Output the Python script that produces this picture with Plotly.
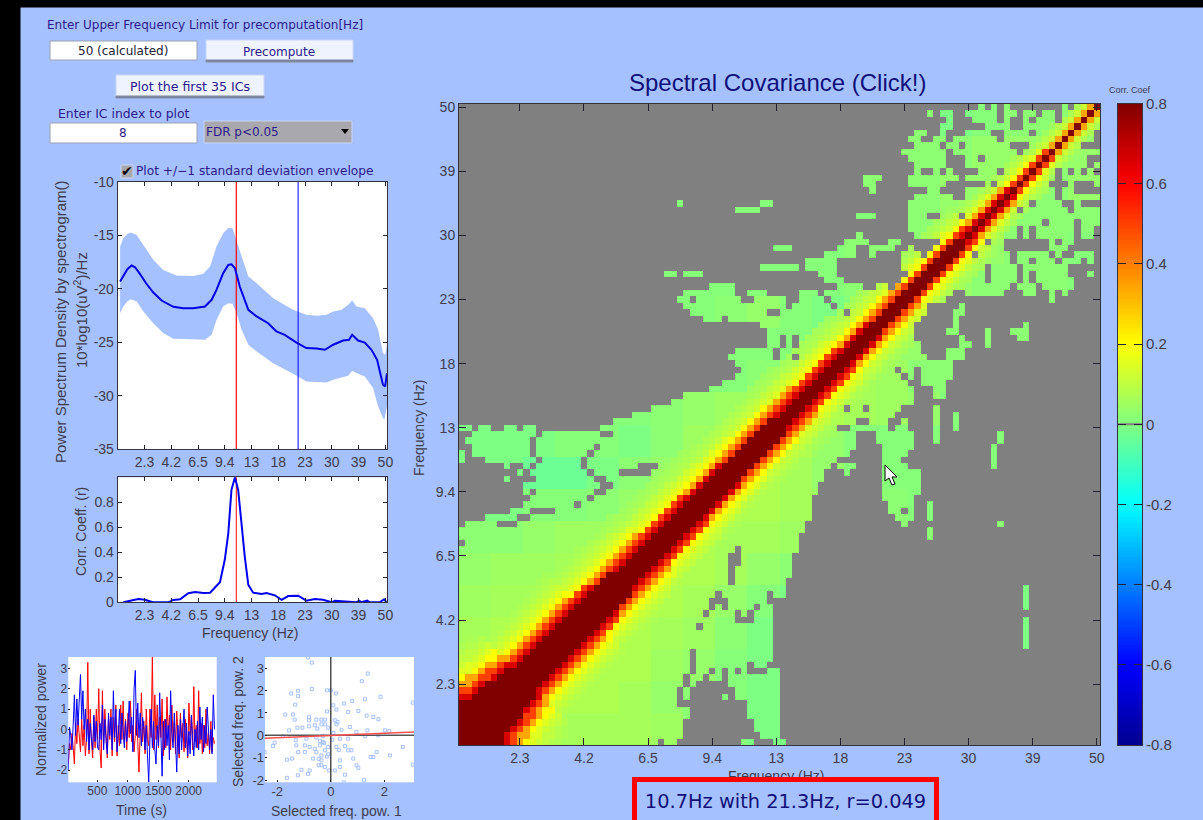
import math
import plotly.graph_objects as go

W, H = 1203, 820
BG = "#a6c1ff"
TXT = "#3d3d4d"
GUI = "#2c1a8c"
NAVY = "#10107a"

FREQ_LABELS = ["2.3", "4.2", "6.5", "9.4", "13", "18", "23", "30", "39", "50"]
FREQ_TICKS = [10, 20, 30, 40, 50, 60, 70, 80, 90, 100]

# ---- power spectrum (log-frequency index, dB) ----
PSD_K = [.9,2.1,3.6,5.2,6.5,8.3,10.6,13.3,16.4,20.8,24.5,28.2,32.6,35.1,36.9,39.4,41.3,42.5,43.8,45.6,48.8,51.9,56.2,59.3,62.4,66.8,70.5,74.3,77.4,80.5,84.2,86.4,87.6,89.8,92.3,94.8,96.9,99.1,99.9,100.6]
PSD_V = [-19.32,-18.79,-18.17,-17.82,-17.98,-18.6,-19.48,-20.35,-21.1,-21.69,-21.81,-21.81,-21.66,-21.03,-20.1,-18.54,-17.76,-17.7,-18.07,-19.79,-21.97,-22.59,-23.22,-24.0,-24.31,-25.03,-25.55,-25.59,-25.71,-25.24,-24.84,-24.78,-24.31,-24.84,-25.03,-25.71,-26.65,-28.98,-29.14,-27.89]
UP_K = [.9,2.1,3.6,4.9,7.1,9.6,13.3,17,22,28.2,32,34.5,36.9,39.4,41.3,42.9,44.4,46.3,48.8,51.9,58.1,65.5,70.5,74.3,78,80.5,83.6,86.1,87.6,89.2,92.3,95.4,97.3,99.1,99.9,100.6]
UP_V = [-16.05,-15.27,-14.86,-14.74,-14.96,-15.89,-17.29,-18.23,-18.76,-18.79,-18.6,-17.92,-16.05,-14.8,-14.3,-14.33,-15.42,-16.98,-18.85,-19.48,-20.88,-21.97,-22.44,-22.53,-22.44,-22.13,-21.97,-21.5,-21.1,-21.66,-21.81,-22.75,-23.84,-26.02,-26.18,-25.24]
LO_K = [.9,2.1,3.6,4.9,7.1,9.6,13.3,17,20.8,25.7,32.6,35.1,36.9,39.4,41.3,42.9,44.4,46.3,48.8,51.9,58.1,65.5,70.5,78,80.5,86.1,87.6,89.2,92.3,95.4,97.3,99.1,99.6,100.6]
LO_V = [-22.28,-21.66,-21.19,-20.97,-21.19,-22.13,-23.22,-24.15,-24.68,-24.71,-24.78,-24.31,-22.91,-21.66,-21.35,-21.41,-22.28,-23.84,-25.24,-25.87,-26.96,-27.96,-28.67,-28.77,-28.52,-28.14,-27.67,-27.89,-28.2,-29.3,-31.01,-32.1,-32.26,-31.01]
SEL_RED_K = 44.3
SEL_BLUE_K = 67.4

# ---- correlation with selected frequency ----
CORR_K = [2.1,4.6,7.7,10.2,13.1,18.9,20.8,23.3,26.4,28.9,32,34.5,38.2,40,41.3,42.5,43.8,45,46.3,47.5,48.8,50.6,53.7,55.6,58.7,61.2,63.7,67.4,70.5,73.6,76.7,79.9,81.1,89.2,90.2,91,93.2,94.2,97.9,99.5,100.4]
CORR_V = [0,.013,.027,.021,0,0,.019,.024,.072,.082,.074,.077,.16,.34,.55,.9,1,.9,.6,.36,.14,.077,.066,.074,.056,.019,.05,.053,.013,.027,.021,0,.013,0,.013,0,.013,0,0,.024,0]

# ---- normalized power time courses ----
POWER_RED = [-1.7,-0.7,-1.0,-0.2,-0.9,-1.7,0.3,-0.7,0.5,-0.5,
 -1.1,0.5,-0.8,0.2,-1.3,-0.4,3.3,-1.2,1.0,-0.6,
 -1.4,0.6,-0.9,1.0,-0.5,2.0,-1.0,-1.9,1.9,-0.7,
 1.0,-0.2,-1.4,0.6,-0.5,1.0,-1.3,0.6,-0.6,1.2,
 -1.3,0.2,-0.8,1.2,-0.5,1.4,-0.7,0.5,-1.0,0.8,
 -0.4,1.4,-0.6,0.2,-1.1,-0.3,1.0,-0.6,-2.1,-0.2,
 1.8,-0.6,0.4,-1.2,1.0,-0.5,-0.8,1.0,-0.4,3.6,
 -1.0,1.7,-0.5,1.2,-0.9,0.6,-0.4,1.5,-1.3,0.5,
 -0.9,1.6,-0.3,0.7,-1.0,1.2,-0.6,0.4,-1.2,0.9,
 -0.2,-1.4,0.8,-0.4,0.3,-1.1,0.5,-0.7,-1.4,1.3,
 -0.3,0.6,-1.0,2.1,-0.6,0.2,-0.9,1.9,-0.7,0.3,
 -1.2,0.2,-0.9,1.0,-0.8,-0.2,-1.2,0.4,-1.1,-0.4,-0.7]
POWER_BLUE = [-2.0,0.1,-0.3,-1.0,0.2,1.7,-0.3,1.5,0.2,1.2,
 2.7,0.5,1.9,0.0,1.0,-0.6,0.5,-1.0,0.3,-0.5,
 -1.0,0.7,-0.6,0.4,-0.9,-1.0,0.3,-0.5,1.2,-1.0,
 0.5,-0.6,-1.2,0.8,-0.3,0.6,-1.0,1.9,-0.4,1.0,
 -1.1,-0.3,1.0,-0.7,0.8,0.0,-0.9,0.4,-0.6,0.2,
 1.4,-0.2,0.6,-1.1,2.0,2.9,-0.3,1.3,-0.4,0.8,
 -0.8,0.6,0.1,-1.0,0.2,-1.3,-2.6,-0.5,1.0,-0.9,
 0.4,-1.0,-1.7,0.2,-0.8,1.8,-0.3,-2.3,0.4,-1.0,
 0.5,-0.8,0.2,-1.5,1.9,-0.2,-0.9,0.8,-0.6,-2.1,
 0.2,-1.2,0.5,-1.0,0.0,1.0,-0.9,0.3,-1.3,-0.1,
 -1.2,0.7,-0.4,-1.3,0.0,-0.9,0.4,-1.0,1.1,-0.5,
 0.6,-1.1,0.2,-0.7,1.1,-0.2,-1.0,0.0,-1.2,1.7,0.0]
TIME_S = list(range(24, 24 + 20 * len(POWER_RED), 20))

# ---- selected frequency scatter ----
SCAT_X = [-.85,-.71,1.38,1.16,-1.48,-1.23,-.71,-.14,0,.19,-1.22,-1.33,1.28,1.86,.8,.5,.09,3.06,-1.7,-1.41,-.14,.21,.65,1.03,1.34,1.59,1.78,-1.35,-.81,-.81,-.54,-.35,-.22,.15,.21,-.35,-.22,-.6,-1.25,-1.06,-.81,-.1,.4,.71,.96,1.37,2.03,2.19,-1.56,-1.79,-1.31,-.91,-.54,-.29,.34,.65,1.28,1.77,-2.1,-2.16,-2.47,-1.29,-.97,-.79,-.41,-.1,.21,.53,-1.22,-.97,-.54,-.22,-.35,-.1,.34,.65,.77,1.71,1.59,1.49,2.21,2.69,3.06,-1.64,-1.45,-.45,-.35,-.22,-.06,.15,.34,.96,1.03,-1.1,-.79,-1.64,-1.23,-.85,.53,1.24,.49,.84,-.66,-.35,-.3,-.15,-.45,.05,.3,-.6,-.25,.1,.25,-.5,-.4]
SCAT_Y = [3.48,3.25,2.76,2.42,1.87,1.99,2.07,2.01,2.01,1.87,1.76,1.37,1.61,1.72,1.54,1.42,1.34,1.46,.93,.93,1.07,1.15,1.04,1.09,.88,.82,.72,.7,.82,.67,.7,.7,.7,.67,.49,.49,.49,.45,.34,.34,.4,.34,.25,.37,.15,.22,.22,.18,.22,-.04,-.22,-.15,-.1,-.04,-.15,-.15,-.04,0,-.33,-.48,-.75,-.45,-.45,-.52,-.45,-.52,-.52,-.48,-.75,-.75,-.75,-.67,-.9,-.85,-1.12,-.67,-.67,-.75,-.97,-.97,-.9,-.52,-1.31,-1.09,-1.04,-1.34,-1.34,-1.42,-1.57,-1.57,-1.42,-1.34,-1.45,-1.54,-1.57,-1.9,-1.79,-1.72,-1.76,-1.99,-2.1,-1.04,-1.04,-1.12,-.3,-.95,-1.05,-.2,-.65,-.6,-.35,.1,.6,.3,-.25,.2]
FIT_X = [-2.46, 3.11]
FIT_Y = [-.13, .15]

# ---- spectral covariance: visible (significant) cells, row t from the top, runs of columns ----
SIGNIFICANT = {
1:[(82,82),(84,84),(86,86),(95,95),(99,100)],
2:[(74,74),(76,77),(80,84),(86,87),(89,90),(92,93),(95,96),(98,100)],
3:[(77,77),(81,84),(86,86),(89,89),(91,93),(95,100)],
4:[(76,77),(83,86),(89,99)],
5:[(72,73),(76,76),(80,83),(86,89),(91,99)],
6:[(71,72),(75,76),(78,84),(86,99)],
7:[(72,75),(77,78),(80,86),(90,97)],
8:[(70,76),(78,87),(89,100)],
9:[(71,76),(80,81),(83,98)],
10:[(72,76),(80,87),(89,98),(100,100)],
11:[(72,72),(75,75),(77,77),(82,84),(86,88),(90,93),(95,95),(97,97),(99,99)],
12:[(64,66),(71,78),(80,88),(91,93),(95,100)],
13:[(64,65),(71,76),(83,83),(86,90),(92,92),(96,96),(100,100)],
14:[(65,65),(74,75),(80,88),(90,93),(95,96)],
15:[(72,77),(80,93),(95,100)],
16:[(35,35),(48,49),(71,81),(83,87),(89,89),(91,94),(97,97)],
17:[(44,47),(71,87),(89,95),(97,100)],
18:[(63,65),(71,73),(76,78),(80,100)],
19:[(71,78),(80,84),(86,91),(93,96),(98,100)],
20:[(71,87),(89,89),(91,96),(98,99)],
21:[(63,63),(72,78),(80,87),(89,89),(91,96),(98,99)],
22:[(61,64),(68,69),(77,81),(84,85),(93,93),(95,96)],
23:[(50,52),(60,62),(65,68),(71,71),(75,85),(93,95)],
24:[(58,62),(65,65),(70,72),(74,80),(82,86),(88,92),(94,94),(97,99)],
25:[(55,59),(70,86),(88,89),(91,93),(95,97),(99,99)],
26:[(48,53),(55,59),(70,82),(84,87),(89,95)],
27:[(33,34),(36,38),(57,59),(71,82),(84,87),(89,89),(91,95),(99,99)],
28:[(58,60),(72,82),(84,87),(89,89),(91,96)],
29:[(40,43),(60,63),(66,67),(70,86),(88,90),(92,96)],
30:[(36,43),(46,48),(54,56),(58,77),(80,85),(89,90),(93,93),(95,95)],
31:[(35,36),(38,44),(47,51),(54,57),(59,76),(93,93)],
32:[(36,51),(53,58),(60,73),(79,79)],
33:[(37,48),(51,60),(62,73),(78,79)],
34:[(39,41),(43,72),(78,78)],
35:[(48,71),(78,78),(89,89)],
36:[(49,71),(77,78),(83,83),(87,89)],
37:[(49,50),(52,52),(54,71),(79,79),(83,83),(88,89)],
38:[(49,50),(52,52),(54,72),(79,80),(83,83)],
39:[(44,49),(51,72),(77,79)],
40:[(43,49),(51,52),(54,73),(77,79)],
41:[(44,77)],
42:[(45,68),(70,71),(73,77)],
43:[(44,69),(71,71),(73,77)],
44:[(42,70),(73,76)],
45:[(40,71),(75,76)],
46:[(36,71),(75,76)],
47:[(34,71)],
48:[(31,60),(62,63),(65,69),(75,75)],
49:[(28,68),(75,75),(78,78)],
50:[(25,62),(65,67),(70,70),(75,75),(78,78)],
51:[(1,2),(4,5),(8,9),(11,12),(23,59),(62,67),(69,70),(75,75),(78,78)],
52:[(3,12),(14,22),(25,62),(66,71),(75,75),(85,85)],
53:[(2,11),(13,62),(66,71),(75,75),(85,85)],
54:[(3,11),(13,21),(23,62),(67,71),(84,84)],
55:[(1,1),(3,11),(13,20),(22,61),(67,70),(84,84)],
56:[(1,1),(5,12),(14,19),(21,59),(67,69),(84,84)],
57:[(8,8),(11,11),(13,19),(21,28),(32,58),(60,62),(67,70),(84,84)],
58:[(10,10),(12,20),(22,25),(31,57),(61,61),(67,72)],
59:[(8,8),(13,21),(24,57),(67,72)],
60:[(11,22),(25,56),(67,72)],
61:[(11,11),(13,21),(24,56),(67,72)],
62:[(12,20),(22,55),(67,71)],
63:[(11,18),(20,55),(68,71),(74,74)],
64:[(9,11),(16,55),(68,69),(71,71),(74,74)],
65:[(5,9),(12,55),(69,71),(74,74)],
66:[(2,6),(10,54),(70,70),(85,85)],
67:[(1,54),(74,74)],
68:[(1,53),(74,74)],
69:[(2,53)],
70:[(1,43),(45,53)],
71:[(1,42),(45,52)],
72:[(1,42),(45,52)],
73:[(1,42),(44,52)],
74:[(1,42),(44,52)],
75:[(1,42),(44,51)],
76:[(1,51),(89,89)],
77:[(1,40),(42,48),(50,51),(89,89)],
78:[(1,39),(43,48),(89,89)],
79:[(1,39),(41,41),(43,46),(48,49),(89,89)],
80:[(1,38),(40,43),(45,45),(47,49)],
81:[(1,43),(47,49),(89,89)],
82:[(1,37),(39,49),(89,89)],
83:[(1,49),(89,89)],
84:[(1,49),(89,89)],
85:[(1,49),(89,89)],
86:[(1,36),(38,49)],
87:[(1,36),(38,49)],
88:[(1,36),(38,45),(47,48)],
89:[(1,36),(38,39),(41,41),(43,43),(45,45),(49,50)],
90:[(1,35),(37,38),(40,41),(43,50)],
91:[(1,35),(37,37),(43,50)],
92:[(1,34),(36,36),(44,50)],
93:[(1,34),(36,36),(42,42),(44,50)],
94:[(1,34),(46,50)],
95:[(1,36),(46,50)],
96:[(1,36),(46,50)],
97:[(1,35),(47,50)],
98:[(1,35),(47,50)],
99:[(1,35),(48,50)],
100:[(1,31),(33,34),(45,46),(50,51)],
}
# half width (cells) of the saturated ridge along the diagonal
RIDGE_WIDTH = [6.8,6.6,6.4,6.2,5.8,5.4,5.0,4.7,4.4,4.2,3.9,3.8,3.7,3.6,3.5,3.5,3.4,3.4,3.3,3.3,
 3.2,3.2,3.1,3.0,3.0,2.9,2.8,2.7,2.6,2.5,2.5,2.5,2.5,2.4,2.4,2.4,2.4,2.3,2.3,2.3,
 2.3,2.3,2.2,2.2,2.2,2.1,2.1,2.1,2.0,2.0,1.9,1.9,1.8,1.8,1.7,1.6,1.6,1.5,1.5,1.5,
 1.4,1.4,1.3,1.3,1.3,1.2,1.2,1.2,1.1,1.1,1.1,1.1,1.0,1.0,1.0,1.0,1.0,1.0,.9,.9,
 .8,.8,.7,.7,.6,.6,.5,.5,.4,.4,.3,.3,.2,.2,.2,.1,.1,.1,.1,.1]
RIDGE_FALL = [4.8,4.0,3.6,3.2,3.1,3.0,2.8,2.4,1.9,1.4]
RIDGE_PROFILE = [.8,.66,.5,.34,.2,.15,.12,.1,.08,.07,.06,.05]
BASE_LEVEL_VALUES = [-.03,-.005,.01,.02,.035,.05,.06,.075,.09,.1]
# off-ridge level per 5x5 block, top row first
BASE_LEVELS = [
"22222222222222312333","33333333333333334434","33333333333333344334",
"22222222222222344333","22222222222233344332","22222222222232343332",
"22222222342124433333","22222222222244433333","22222222235665333333",
"11112234567765422222","11122135677422222222","11001346776422222222",
"11223467776533222222","33455677665433333333","45567777643111111111",
"56677776421111111111","67777765310111111111","77777754211111111111",
"77777643211111111111","77766653211111111111"]

z = [[None] * 100 for _ in range(100)]
for t in range(1, 101):
    r = 101 - t
    for c0, c1 in SIGNIFICANT[t]:
        for c in range(c0, c1 + 1):
            base = BASE_LEVEL_VALUES[int(BASE_LEVELS[(t - 1) // 5][(c - 1) // 5])]
            z[r - 1][c - 1] = base
    for c in range(1, 101):
        p = (r + c) // 2
        d = abs(r - c)
        u = max(0, d - RIDGE_WIDTH[p - 1]) / RIDGE_FALL[(p - 1) // 10]
        i = math.ceil(u / .25)
        if i < len(RIDGE_PROFILE) and (z[r - 1][c - 1] is not None or d <= 3):
            old = z[r - 1][c - 1]
            z[r - 1][c - 1] = max(RIDGE_PROFILE[i], old if old is not None else -1)

COLORBAR_LEVELS = [round(-.8 + i * .00625, 5) for i in range(257)]
JET = [[0, "rgb(0,0,143)"], [.125, "rgb(0,0,255)"], [.375, "rgb(0,255,255)"],
       [.625, "rgb(255,255,0)"], [.875, "rgb(255,0,0)"], [1, "rgb(128,0,0)"]]


def px(x):
    return x / W


def py(y):
    return 1 - y / H


def axes(fig_layout, n, box, xr, yr, xt=None, xl=None, yt=None, yl=None, line=True, tlen=4, fs=14, yside="left"):
    x0, y0, x1, y1 = box
    sx = "" if n == 1 else str(n)
    common = dict(showgrid=False, zeroline=False, showline=line, linecolor="#333344", linewidth=1,
                  ticks="inside", ticklen=tlen, tickcolor="#222233", tickwidth=1,
                  mirror="allticks" if line else False,
                  tickfont=dict(family="Liberation Sans", size=fs, color=TXT), tickmode="array")
    fig_layout["xaxis" + sx] = dict(domain=[px(x0), px(x1)], range=xr, anchor="y" + sx,
                                    tickvals=xt or [], ticktext=xl or [], **common)
    fig_layout["yaxis" + sx] = dict(domain=[py(y1), py(y0)], range=yr, anchor="x" + sx, side=yside,
                                    tickvals=yt or [], ticktext=yl or [], **common)


lay = dict(width=W, height=H, margin=dict(l=0, r=0, t=0, b=0, autoexpand=False), paper_bgcolor=BG, plot_bgcolor="white",
           showlegend=False, shapes=[], annotations=[])


def label(x, y, s, size=14, color=TXT, fam="Liberation Sans", anchor="center", angle=0, **kw):
    lay["annotations"].append(dict(x=px(x), y=py(y), xref="paper", yref="paper", text=s, showarrow=False,
                                   xanchor=anchor, yanchor="middle", textangle=angle,
                                   font=dict(family=fam, size=size, color=color), **kw))


def rect(x0, y0, x1, y1, fill, line=None, lw=1, layer="above"):
    lay["shapes"].append(dict(type="rect", xref="paper", yref="paper", x0=px(x0), x1=px(x1), y0=py(y1), y1=py(y0),
                              fillcolor=fill, line=dict(color=line or fill, width=lw), layer=layer))


axes(lay, 1, (117.7, 182, 387, 449), [0, 100.6], [-35, -10], FREQ_TICKS, FREQ_LABELS,
     [-35, -30, -25, -20, -15, -10], ["-35", "-30", "-25", "-20", "-15", "-10"], fs=14)
axes(lay, 2, (117.7, 477.3, 387, 602.3), [0, 100.6], [0, 1], FREQ_TICKS, FREQ_LABELS,
     [0, .2, .4, .6, .8], ["0", "0.2", "0.4", "0.6", "0.8"], fs=14)
axes(lay, 3, (68.3, 657, 216.7, 782.3), [24, 2460], [-2.6, 3.56], [500, 1000, 1500, 2000],
     ["500", "1000", "1500", "2000"], [-2, -1, 0, 1, 2, 3], ["-2", "-1", "0", "1", "2", "3"], line=False, tlen=2, fs=12)
axes(lay, 4, (265, 657, 414, 782.3), [-2.46, 3.11], [-2.1, 3.5], [-2, 0, 2], ["-2", "0", "2"],
     [-2, -1, 0, 1, 2, 3], ["-2", "-1", "0", "1", "2", "3"], line=False, tlen=2, fs=13)
axes(lay, 5, (459, 104, 1100, 745), [.5, 100.5], [.5, 100.5], FREQ_TICKS, FREQ_LABELS, FREQ_TICKS, FREQ_LABELS, tlen=7, fs=14)
axes(lay, 6, (1118, 103.5, 1142, 745), [0, 1], [-.8, .8], None, None, [-.8, -.6, -.4, -.2, 0, .2, .4, .6, .8],
     ["-0.8", "-0.6", "-0.4", "-0.2", "0", "0.2", "0.4", "0.6", "0.8"], tlen=8, fs=15, yside="right")
lay["xaxis6"].update(ticks="", showticklabels=False, tickmode="auto")
lay["xaxis6"].pop("tickvals"); lay["xaxis6"].pop("ticktext")

traces = [
    go.Scatter(x=UP_K + LO_K[::-1], y=UP_V + LO_V[::-1], mode="lines", fill="toself", fillcolor=BG,
               line=dict(width=0), xaxis="x", yaxis="y"),
    go.Scatter(x=[SEL_RED_K, SEL_RED_K], y=[-35, -10], mode="lines", line=dict(color="#ff0000", width=1.2), xaxis="x", yaxis="y"),
    go.Scatter(x=[SEL_BLUE_K, SEL_BLUE_K], y=[-35, -10], mode="lines", line=dict(color="#0000ff", width=1), xaxis="x", yaxis="y"),
    go.Scatter(x=PSD_K, y=PSD_V, mode="lines", line=dict(color="#0000e6", width=2), xaxis="x", yaxis="y"),
    go.Scatter(x=[SEL_RED_K, SEL_RED_K], y=[0, 1], mode="lines", line=dict(color="#ff0000", width=1), xaxis="x2", yaxis="y2"),
    go.Scatter(x=CORR_K, y=CORR_V, mode="lines", line=dict(color="#0000f0", width=2), xaxis="x2", yaxis="y2"),
    go.Scatter(x=TIME_S, y=POWER_RED, mode="lines", line=dict(color="#ff0000", width=1), xaxis="x3", yaxis="y3"),
    go.Scatter(x=TIME_S, y=POWER_BLUE, mode="lines", line=dict(color="#0000ff", width=1), xaxis="x3", yaxis="y3"),
    go.Scatter(x=SCAT_X, y=SCAT_Y, mode="markers",
               marker=dict(symbol="square-open", size=3, color=BG, line=dict(color=BG, width=1)), xaxis="x4", yaxis="y4"),
    go.Scatter(x=[0, 0], y=[-2.1, 3.5], mode="lines", line=dict(color="#222222", width=1.2), xaxis="x4", yaxis="y4"),
    go.Scatter(x=[-2.46, 3.11], y=[0, 0], mode="lines", line=dict(color="#555555", width=1.5), xaxis="x4", yaxis="y4"),
    go.Scatter(x=FIT_X, y=FIT_Y, mode="lines", line=dict(color="#ff5050", width=1.5), xaxis="x4", yaxis="y4"),
    go.Heatmap(z=z, x=list(range(1, 101)), y=list(range(1, 101)), colorscale=JET, zmin=-.8, zmax=.8,
               showscale=False, hoverongaps=False, xaxis="x5", yaxis="y5"),
    go.Heatmap(z=[[v] for v in COLORBAR_LEVELS], x=[.5], y=COLORBAR_LEVELS, colorscale=JET, zmin=-.8, zmax=.8,
               showscale=False, xaxis="x6", yaxis="y6"),
    go.Scatter(x=[0, 1], y=[0, 0], mode="lines", line=dict(color="#808080", width=2), xaxis="x6", yaxis="y6"),
]

# frame, heatmap background
rect(459, 104, 1100, 745, "#808080", layer="below")
rect(0, 0, 20, H, "#000000")
rect(0, 0, W, 7, "#000000")

# GUI controls
label(45, 25, "Enter Upper Frequency Limit for precomputation[Hz]", 12, GUI, "DejaVu Sans", "left")
rect(50, 41, 197, 60, "white", "#9aa0b0")
label(123, 51, "50 (calculated)", 12, "#222233", "DejaVu Sans")
rect(206, 40, 353, 62, "#eef3fe", "#c9d6f5")
rect(206, 60, 353, 62, "#7c86a0")
label(279, 52, "Precompute", 12, GUI, "DejaVu Sans")
rect(116, 75, 264, 98, "#eef3fe", "#c9d6f5")
rect(116, 96, 264, 98, "#7c86a0")
label(190, 87, "Plot the first 35 ICs", 12.6, GUI, "DejaVu Sans")
label(124, 113, "Enter IC index to plot", 12.4, GUI, "DejaVu Sans")
rect(50, 123, 197, 143, "white", "#9aa0b0")
label(123, 133, "8", 12, GUI, "DejaVu Sans")
rect(204, 121, 352, 143, "#a8a8ae", "#c9d6f5")
label(204, 132, "FDR p&lt;0.05", 12, GUI, "DejaVu Sans", "left")
lay["shapes"].append(dict(type="path", xref="paper", yref="paper",
                          path=f"M {px(341)} {py(129)} L {px(349)} {py(129)} L {px(345)} {py(134)} Z",
                          fillcolor="black", line=dict(width=0)))
rect(121, 165, 133, 178, "#a8a8ae", "#c9d6f5")
label(127, 171, "✔", 14, "#000000", "DejaVu Sans")
label(134, 171, "Plot +/−1 standard deviation envelope", 12.2, GUI, "DejaVu Sans", "left")

# axis labels
label(60, 322, "Power Spectrum Density by spectrogram()", 15, TXT, angle=-90)
label(80, 310, "10*log10(uV<sup>2</sup>)/Hz", 15, TXT, angle=-90)
label(81, 532, "Corr. Coeff. (r)", 14, TXT, angle=-90)
label(250, 633, "Frequency (Hz)", 14, TXT)
label(41, 720, "Normalized power", 14, TXT, angle=-90)
label(141, 810, "Time (s)", 14, TXT)
label(238, 722, "Selected freq. pow. 2", 14, TXT, angle=-90)
label(336, 811, "Selected freq. pow. 1", 14, TXT)
label(419, 428, "Frequency (Hz)", 14, TXT, angle=-90)
label(776, 776, "Frequency (Hz)", 14, TXT)
label(777, 83, "Spectral Covariance (Click!)", 24, NAVY)
label(1130, 90, "Corr. Coef", 9, TXT)

# cursor
cur = [(885, 465), (885, 481), (889, 478), (892, 485), (895, 484), (892, 477), (897, 477)]
lay["shapes"].append(dict(type="path", xref="paper", yref="paper",
                          path="M " + " L ".join(f"{px(a)} {py(b)}" for a, b in cur) + " Z",
                          fillcolor="white", line=dict(color="black", width=1)))

# selection read-out
lay["annotations"].append(dict(x=px(785.5), y=py(777), xref="paper", yref="paper", showarrow=False,
                               xanchor="center", yanchor="top", width=293, height=34,
                               text="10.7Hz with 21.3Hz, r=0.049", align="center", valign="middle",
                               font=dict(family="DejaVu Sans", size=19.4, color=NAVY),
                               bgcolor=BG, bordercolor="#ff0000", borderwidth=5, borderpad=2))

fig = go.Figure(traces, go.Layout(**lay))
fig.write_html("out.html", config=dict(displayModeBar=False),
               post_script="document.body.style.margin='0';document.body.style.overflow='hidden';")
